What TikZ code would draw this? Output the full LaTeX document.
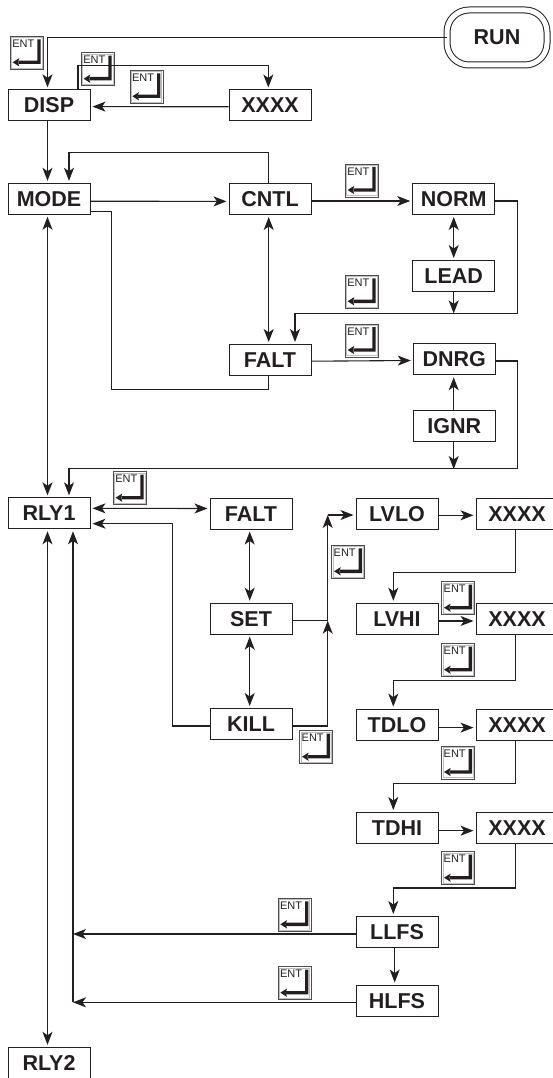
\documentclass[tikz,border=0pt]{standalone}
\usepackage{fontspec}
\setmainfont{Liberation Sans}
\usetikzlibrary{arrows.meta, positioning, calc}
\definecolor{inkdark}{HTML}{231F20}
\definecolor{inkgrey}{HTML}{4D4D4F}
\definecolor{inkfaint}{HTML}{BCBEC0}
\tikzset{
  statebox/.style={draw=inkdark, line width=1pt, fill=white, text=inkdark,
    minimum width=82, minimum height=31, inner sep=0pt,
    text height=15pt, text depth=0pt, font=\fontsize{21.5}{21.5}\selectfont\bfseries},
  link/.style={draw=inkdark, line width=1.1pt},
  flow/.style={link, -{Stealth[length=13pt, width=10pt, inset=3.5pt]}, shorten >=2pt},
  both/.style={link, {Stealth[length=13pt, width=10pt, inset=3.5pt]}-{Stealth[length=13pt, width=10pt, inset=3.5pt]},
    shorten >=2pt, shorten <=2pt},
  entkey/.pic={
    \draw[inkgrey, line width=0.9pt] (0,0) rectangle (33,33);
    \draw[inkfaint, line width=0.5pt] (1.4,1.4) rectangle (31.6,31.6);
    \fill[inkdark] (27,3) -- (30.3,3) -- (30.3,27.7) -- (8,27.7) -- (8,24.3) -- (27,24.3) -- cycle;
    \fill[inkdark] (2.3,26) -- (9,21.8) -- (7.6,26) -- (9,30.2) -- cycle;
    \node[text=inkdark, inner sep=0pt, font=\fontsize{11}{11}\selectfont] (-label) at (13,7.5) {ENT};
  }
}
\begin{document}
\begin{tikzpicture}[x=1pt, y=-1pt]
    \useasboundingbox (0,0) rectangle (553,1078);
    \clip (0,0) rectangle (553,1078);
    \foreach \nm/\x/\y/\txt in {disp/49/105.3/DISP, xxxa/270/105.5/XXXX, mode/49/198.8/MODE,
      cntl/270/199/CNTL, norm/453.7/199/NORM, lead/453.7/276/LEAD, falta/270/360/FALT,
      dnrg/454.3/359.3/DNRG, ignr/454.3/426/IGNR, rlya/49/513.3/RLY1, faltb/251/513.5/FALT,
      set/251/618.7/SET, kill/251/724/KILL, lvlo/397/513.5/LVLO, xxxb/517/513.5/XXXX,
      lvhi/397/618.7/LVHI, xxxc/517/618.7/XXXX, tdlo/397/724.6/TDLO, xxxd/517/724.6/XXXX,
      tdhi/397/828/TDHI, xxxe/517/828/XXXX, llfs/397/932/LLFS, hlfs/397/1000.5/HLFS,
      rlyb/49/1062.8/RLY2}{%
      \node[statebox] (\nm) at (\x,\y) {\txt};}
    \node[statebox, minimum width=100, minimum height=55, rounded corners=22pt,
      double, double distance=5pt] (run) at (497,37.5) {RUN};
    \foreach \i/\x/\y in {a/10.3/36.3, b/81.3/52.7, c/130/70.3, d/345.3/164, e/345.3/275.3,
      f/345.3/324, g/113.3/471.7, h/331.7/545.3, i/299.7/730.7, j/441.7/581.7, k/441.7/643.7,
      l/441.7/746, m/441.7/851.7, n/278/898.3, o/278/966.7}{%
      \pic (ent\i) at (\x,\y) {entkey};}
    \coordinate (junc) at (327.7,620.7);
    \coordinate (bend) at (327.7,515);
    \coordinate (raila) at (73,934);
    \coordinate (railb) at (73,1002.3);
    % top of the menu
    \draw[flow] (run.west) -| ([xshift=-1.5pt]disp.north);
    \draw[flow] ([xshift=29pt]disp.north) -- ++(0,-23.5) -| ([xshift=-1.7pt]xxxa.north);
    \draw[flow] ([yshift=-1.3pt]xxxa.west) -- ([yshift=-1.3pt]disp.east);
    \draw[flow] ([xshift=-1.5pt]disp.south) -- ([xshift=-1.5pt]mode.north);
    % mode and control
    \draw[flow] ([xshift=-1.3pt]cntl.north) -- ++(0,-30.5) -| ([xshift=20pt]mode.north);
    \draw[flow] ([yshift=-2.4pt]mode.east) -- ([yshift=-2.4pt]cntl.west);
    \draw[flow] ([yshift=-2pt]cntl.east) -- ([yshift=-2pt]norm.west);
    \draw[both] ([xshift=-1.5pt]mode.south) -- ([xshift=-1.5pt]rlya.north);
    \draw[both] ([xshift=-1.3pt]cntl.south) -- ([xshift=-1.3pt]falta.north);
    \draw[link] ([yshift=-12.5pt]mode.east) -- ++(21,0) -- ++(0,178) -| ([xshift=-1.3pt]falta.south);
    \draw[both] (norm.south) -- (lead.north);
    \draw[flow] (lead.south) -- ++(0,23.4);
    \draw[flow] ([yshift=-2pt]norm.east) -- ++(22.3,0) -- ++(0,112.7) -| ([xshift=25pt]falta.north);
    \draw[flow] ([yshift=-1.2pt]falta.east) -- ([yshift=-1.2pt]dnrg.west);
    \draw[flow] ([xshift=-0.6pt]ignr.north) -- ([xshift=-0.6pt]dnrg.south);
    \draw[flow] ([xshift=-0.6pt]ignr.south) -- ++(0,29);
    \draw[flow] ([yshift=-1.7pt]dnrg.east) -- ++(21.7,0) -- ++(0,107.3) -| ([xshift=20pt]rlya.north);
    % relay one
    \draw[both] ([yshift=5pt]rlya.east) -- ([yshift=5pt]faltb.west);
    \draw[flow] ([yshift=-2pt]kill.west) -- ++(-36.7,0) |- ([yshift=-10.4pt]rlya.east);
    \draw[both] ([xshift=-1.3pt]faltb.south) -- ([xshift=-1.3pt]set.north);
    \draw[both] ([xshift=-1.3pt]set.south) -- ([xshift=-1.3pt]kill.north);
    \draw[link] ([yshift=-2pt]set.east) -- (junc);
    \draw[link, -{Stealth[length=13pt, width=10pt, inset=3.5pt]}] ([yshift=-2pt]kill.east) -| (junc);
    \draw[link, -{Stealth[length=13pt, width=10pt, inset=3.5pt]}] (junc) -- (bend);
    \draw[flow] (bend) -- ([yshift=-1.5pt]lvlo.west);
    \draw[flow] ([yshift=-1.8pt]lvlo.east) -- ([yshift=-1.8pt]xxxb.west);
    \draw[flow] ([xshift=-1.3pt]xxxb.south) -- ++(0,43) -| ([xshift=-3.7pt]lvhi.north);
    \draw[flow] ([yshift=-2.3pt]lvhi.east) -- ([yshift=-2.3pt]xxxc.west);
    \draw[flow] ([xshift=-1.3pt]xxxc.south) -- ++(0,46) -| ([xshift=-3.7pt]tdlo.north);
    \draw[flow] ([yshift=-3pt]tdlo.east) -- ([yshift=-3pt]xxxd.west);
    \draw[flow] ([xshift=-1.3pt]xxxd.south) -- ++(0,43.3) -| ([xshift=-3.7pt]tdhi.north);
    \draw[flow] ([yshift=-2.7pt]tdhi.east) -- ([yshift=-2.7pt]xxxe.west);
    \draw[flow] ([xshift=-1.3pt]xxxe.south) -- ++(0,44) -| ([xshift=-3.7pt]llfs.north);
    \draw[flow] ([xshift=-2.3pt]llfs.south) -- ([xshift=-2.3pt]hlfs.north);
    % back to relay one
    \draw[link, -{Stealth[length=13pt, width=10pt, inset=3.5pt]}] ([yshift=-2pt]llfs.west) -- (raila);
    \draw[link, -{Stealth[length=13pt, width=10pt, inset=3.5pt]}] ([yshift=-1.8pt]hlfs.west) -- (railb);
    \draw[flow] (railb) -- ([xshift=24pt]rlya.south);
    \draw[both] ([xshift=-1.5pt]rlya.south) -- ([xshift=-1.5pt]rlyb.north);
  \end{tikzpicture}
\end{document}
